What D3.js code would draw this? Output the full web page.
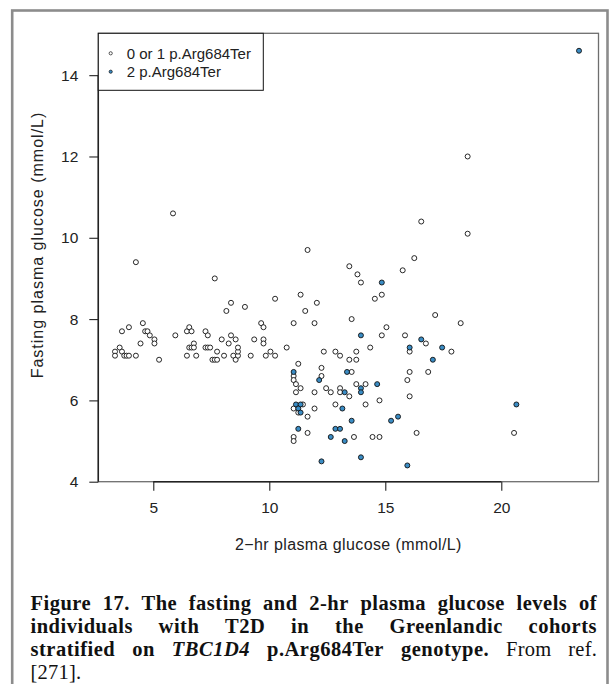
<!DOCTYPE html>
<html lang="en">
<head>
<meta charset="utf-8">
<title>Fasting and 2-hr plasma glucose by p.Arg684Ter genotype</title>
<script src="https://cdn.jsdelivr.net/npm/d3@7"></script>
<style>
  body { margin: 0; background: #fff; }
  svg { display: block; }
</style>
</head>
<body>
<svg width="609" height="684"></svg>
<script>
// 0 or 1 copies of p.Arg684Ter (open circles)
var openX = [3.35,3.35,3.55,3.65,3.75,3.85,3.95,4.25,3.65,3.95,
  4.45,4.55,4.65,4.75,4.85,5.05,5.05,5.25,5.95,6.45,
  6.55,6.65,6.45,6.55,6.65,6.75,6.75,6.85,7.25,7.35,
  7.25,7.35,7.45,7.55,7.65,7.75,7.75,7.95,8.05,8.25,
  8.35,8.15,8.35,8.55,8.45,8.55,8.65,8.65,8.65,8.95,
  4.25,5.85,7.65,11.65,9.2,9.35,9.65,9.75,9.75,9.75,
  9.85,10.05,10.25,10.25,10.75,11.35,12.05,11.55,11.05,11.95,
  13.95,14.85,14.55,13.55,15.05,14.85,15.85,16.75,14.35,16.05,
  12.35,12.85,13.05,13.75,13.45,13.75,11.25,11.05,11.05,11.15,
  11.35,11.15,12.25,12.25,13.55,16.05,16.85,15.95,12.45,12.65,
  13.05,13.05,13.45,13.75,14.15,11.95,16.05,11.45,11.05,11.25,
  11.95,11.65,12.85,14.15,14.75,11.65,11.05,11.05,13.65,14.45,
  14.75,16.35,16.55,18.55,16.25,15.75,17.15,18.25,17.85,20.55,
  18.55,13.45,13.8];
var openY = [7.2,7.1,7.3,7.2,7.1,7.1,7.1,7.1,7.7,7.8,
  7.4,7.9,7.7,7.7,7.6,7.5,7.4,7.0,7.6,7.7,
  7.8,7.7,7.1,7.3,7.3,7.4,7.3,7.1,7.7,7.6,
  7.3,7.3,7.3,7.0,7.0,7.0,7.2,7.5,7.1,7.4,
  7.6,8.2,8.4,7.5,7.1,7.0,7.1,7.2,7.3,8.3,
  9.4,10.6,9.0,9.7,7.1,7.5,7.9,7.8,7.5,7.4,
  7.1,7.2,7.1,8.5,7.3,8.6,8.4,8.2,7.9,7.9,
  8.9,8.6,8.5,8.0,7.8,7.6,7.6,7.4,7.3,7.2,
  7.2,7.2,7.1,7.2,7.0,7.0,6.9,6.6,6.5,6.4,
  6.3,6.2,6.8,6.6,6.7,6.7,6.7,6.5,6.3,6.2,
  6.3,6.2,6.1,6.4,6.4,6.2,6.1,5.9,5.8,5.7,
  5.8,5.6,5.9,5.9,6.0,5.2,5.1,5.0,5.1,5.1,
  5.1,5.2,10.4,10.1,9.5,9.2,8.1,7.9,7.2,5.2,
  12.0,9.3,9.1];

// 2 copies of p.Arg684Ter (filled circles)
var filledX = [23.35,14.85,13.95,16.55,16.05,17.45,17.05,11.05,12.15,13.35,
  13.25,13.95,13.95,14.65,11.15,11.35,11.25,11.35,13.15,13.55,
  15.25,15.55,20.65,11.25,12.85,13.05,12.65,13.25,12.25,13.95,
  15.95];
var filledY = [14.6,8.9,7.6,7.5,7.3,7.3,7.0,6.7,6.5,6.7,
  6.2,6.3,6.2,6.4,5.9,5.9,5.8,5.7,5.8,5.5,
  5.5,5.6,5.9,5.3,5.3,5.3,5.1,5.0,4.5,4.6,
  4.4];

var xTicks = [5, 10, 15, 20];
var yTicks = [4, 6, 8, 10, 12, 14];
var legendLabels = ["0 or 1 p.Arg684Ter", "2 p.Arg684Ter"];
var xLabel = "2\u2212hr plasma glucose (mmol/L)";
var yLabel = "Fasting plasma glucose (mmol/L)";

// caption words: [text, style]  b = bold, bi = bold italic, n = normal
var captionLines = [
  [["Figure","b"],["17.","b"],["The","b"],["fasting","b"],["and","b"],["2-hr","b"],["plasma","b"],["glucose","b"],["levels","b"],["of","b"]],
  [["individuals","b"],["with","b"],["T2D","b"],["in","b"],["the","b"],["Greenlandic","b"],["cohorts","b"]],
  [["stratified","b"],["on","b"],["TBC1D4","bi"],["p.Arg684Ter","b"],["genotype.","b"],["From","n"],["ref.","n"]],
  [["[271].","n"]]
];

var svg = d3.select("svg");
var sans = "'Liberation Sans', Arial, Helvetica, sans-serif";
var serif = "'Liberation Serif', 'Times New Roman', serif";

var plotL = 98.3, plotR = 598.5, plotT = 33.3, plotB = 481.7;
var x = d3.scaleLinear().domain([2.63, 24.19]).range([plotL, plotR]);
var y = d3.scaleLinear().domain([4, 15.03]).range([plotB, plotT]);

// outer figure frame
svg.append("rect")
  .attr("x", 12.2).attr("y", 10.5)
  .attr("width", 595.3).attr("height", 690)
  .attr("fill", "none").attr("stroke", "#8c8c8c").attr("stroke-width", 2.6);

// plot box
svg.append("rect")
  .attr("x", plotL).attr("y", plotT)
  .attr("width", plotR - plotL).attr("height", plotB - plotT)
  .attr("fill", "none").attr("stroke", "#6e6e6e").attr("stroke-width", 1.3);

var gx = svg.append("g")
  .attr("transform", "translate(0," + plotB + ")")
  .call(d3.axisBottom(x).tickValues(xTicks).tickSize(9).tickPadding(11).tickFormat(d3.format("d")));
var gy = svg.append("g")
  .attr("transform", "translate(" + plotL + ",0)")
  .call(d3.axisLeft(y).tickValues(yTicks).tickSize(9).tickPadding(11).tickFormat(d3.format("d")));

[gx, gy].forEach(function(g) {
  g.select(".domain").remove();
  g.selectAll("line").attr("stroke", "#222").attr("stroke-width", 1.1);
  g.selectAll("text").attr("fill", "#222").style("font-family", sans).style("font-size", "15.5px");
});

// R style axis lines, first to last tick only
svg.append("line")
  .attr("x1", x(xTicks[0])).attr("x2", x(xTicks[xTicks.length - 1]))
  .attr("y1", plotB).attr("y2", plotB)
  .attr("stroke", "#222").attr("stroke-width", 1.5);
svg.append("line")
  .attr("x1", plotL).attr("x2", plotL)
  .attr("y1", y(yTicks[0])).attr("y2", y(yTicks[yTicks.length - 1]))
  .attr("stroke", "#222").attr("stroke-width", 1.5);

// axis titles
svg.append("text")
  .attr("x", (plotL + plotR) / 2).attr("y", 550)
  .attr("text-anchor", "middle")
  .style("font-family", sans).style("font-size", "16px").style("letter-spacing", "0.4px")
  .attr("fill", "#222")
  .text(xLabel);
svg.append("text")
  .attr("transform", "translate(43,245) rotate(-90)")
  .attr("text-anchor", "middle")
  .style("font-family", sans).style("font-size", "16px").style("letter-spacing", "1px")
  .attr("fill", "#222")
  .text(yLabel);

// points
var openData = openX.map(function(d, i) { return [d, openY[i]]; });
var filledData = filledX.map(function(d, i) { return [d, filledY[i]]; });

svg.append("g").selectAll("circle")
  .data(openData)
  .enter().append("circle")
  .attr("cx", function(d) { return x(d[0]); })
  .attr("cy", function(d) { return y(d[1]); })
  .attr("r", 2.5)
  .attr("fill", "#fff").attr("stroke", "#111").attr("stroke-width", 0.9);

svg.append("g").selectAll("circle")
  .data(filledData)
  .enter().append("circle")
  .attr("cx", function(d) { return x(d[0]); })
  .attr("cy", function(d) { return y(d[1]); })
  .attr("r", 2.5)
  .attr("fill", "#3a8cc4").attr("stroke", "#111").attr("stroke-width", 0.9);

// legend
var lg = svg.append("g");
lg.append("rect")
  .attr("x", plotL).attr("y", plotT)
  .attr("width", 165).attr("height", 57)
  .attr("fill", "#fff").attr("stroke", "#111").attr("stroke-width", 1);
lg.selectAll(".item")
  .data(legendLabels)
  .enter().append("g")
  .attr("class", "item")
  .attr("transform", function(d, i) { return "translate(0," + (53.3 + i * 18.4) + ")"; })
  .each(function(d, i) {
    var g = d3.select(this);
    g.append("circle")
      .attr("cx", 110.7).attr("cy", 0).attr("r", 1.6)
      .attr("fill", i === 0 ? "#fff" : "#3a8cc4")
      .attr("stroke", "#111").attr("stroke-width", 0.7);
    g.append("text")
      .attr("x", 126.7).attr("y", 5.3)
      .style("font-family", sans).style("font-size", "15px")
      .attr("fill", "#222")
      .text(d);
  });

// caption, justified like the source page
var capL = 30.5, capR = 597, capY0 = 610, capStep = 23;
var cap = svg.append("g");
captionLines.forEach(function(words, li) {
  var nodes = words.map(function(w) {
    return cap.append("text")
      .attr("y", capY0 + li * capStep)
      .style("font-family", serif)
      .style("font-size", "20.5px")
      .style("letter-spacing", w[1] === "n" ? "0.2px" : "0.5px")
      .style("font-weight", w[1] === "n" ? "normal" : "bold")
      .style("font-style", w[1] === "bi" ? "italic" : "normal")
      .attr("fill", "#111")
      .text(w[0]);
  });
  var widths = nodes.map(function(n) { return n.node().getComputedTextLength(); });
  var total = d3.sum(widths);
  var last = li === captionLines.length - 1;
  var gap = (last || words.length < 2) ? 5 : Math.max(3, (capR - capL - total) / (words.length - 1));
  var cx = capL;
  nodes.forEach(function(n, i) {
    n.attr("x", cx);
    cx += widths[i] + gap;
  });
});
</script>
</body>
</html>
